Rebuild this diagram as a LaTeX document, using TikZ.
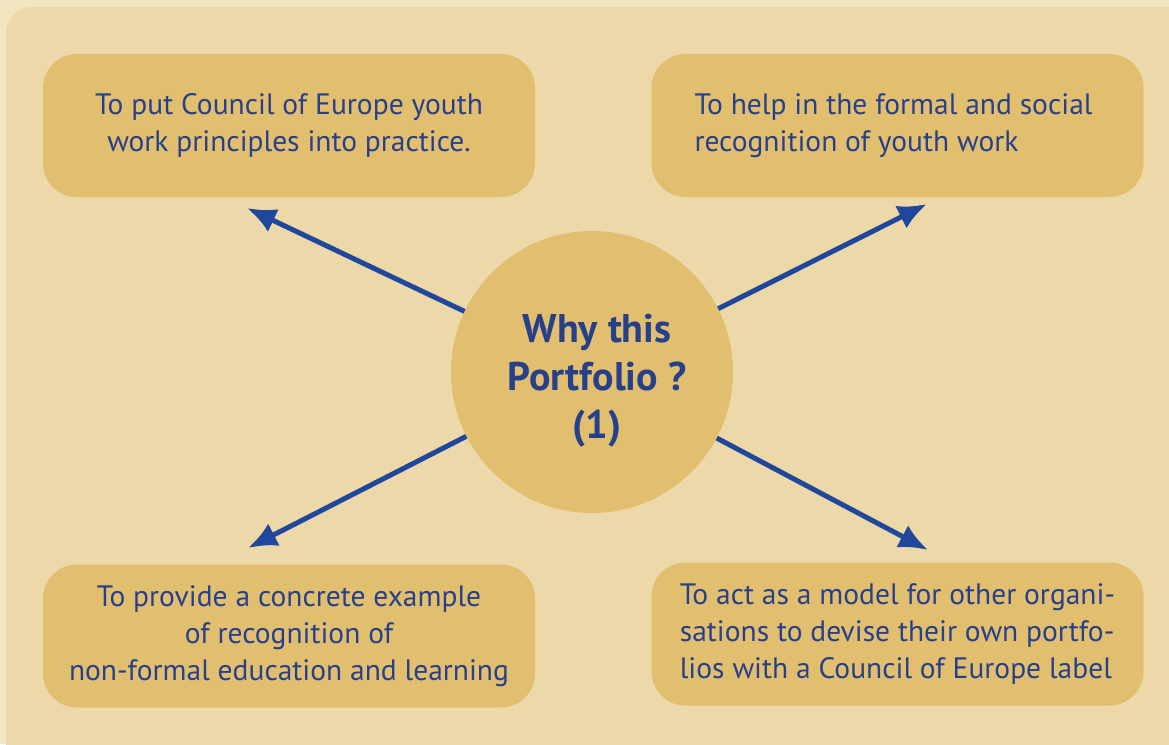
\documentclass[tikz,border=0pt]{standalone}
\usepackage{fontspec}
\setmainfont{PT Sans}
\usetikzlibrary{arrows.meta}
\definecolor{pagebg}{HTML}{F3E4C2}
\definecolor{panelbg}{HTML}{EDD8A9}
\definecolor{boxfill}{HTML}{E2BE6F}
\definecolor{textblue}{HTML}{27408B}
\definecolor{arrowblue}{HTML}{1F479C}
\begin{document}
\begin{tikzpicture}[x=1pt,y=-1pt]
\tikzstyle{every node}+=[inner sep=0pt]
\tikzstyle{reason}=[fill=boxfill, rounded corners=34pt, minimum width=492pt, minimum height=143pt, text=textblue, font=\fontsize{29.5}{37}\selectfont]
\tikzstyle{hub}=[circle, fill=boxfill, minimum size=282pt]
\tikzstyle{hubtext}=[text=textblue, align=center, font=\bfseries\fontsize{40}{48}\selectfont]
\tikzstyle{link}=[arrowblue, line width=5pt, -{Latex[length=29pt,width=25pt]}]
\useasboundingbox (0,0) rectangle (1169,744);
\clip (0,0) rectangle (1169,744);
\fill [pagebg] (0,0) rectangle (1169,744);
\fill [panelbg, rounded corners=26pt] (6,7) rectangle (1200,780);
\node [hub] (why) at (592,372) {};
\node [hubtext] (whytext) at (597,381) {Why this\\Portfolio ?\\(1)};
\node [reason, align=center] (principles) at (289,125.5) {To put Council of Europe youth\\work principles into practice.};
\node [reason, align=left] (recognition) at (897.5,125.5) {\hspace*{-8pt}To help in the formal and social\\\hspace*{-8pt}recognition of youth work};
\node [reason, align=center] (example) at (289,636) {To provide a concrete example\\of recognition of\\non-formal education and learning};
\node [reason, align=left] (model) at (897.5,634) {To act as a model for other organi-\\sations to devise their own portfo-\\lios with a Council of Europe label};
\coordinate (tipTL) at (247,208);
\coordinate (tipTR) at (927,204);
\coordinate (tipBL) at (248,548);
\coordinate (tipBR) at (928,550);
\draw [link] (why) -- (tipTL);
\draw [link] (why) -- (tipTR);
\draw [link] (why) -- (tipBL);
\draw [link] (why) -- (tipBR);
\end{tikzpicture}
\end{document}
